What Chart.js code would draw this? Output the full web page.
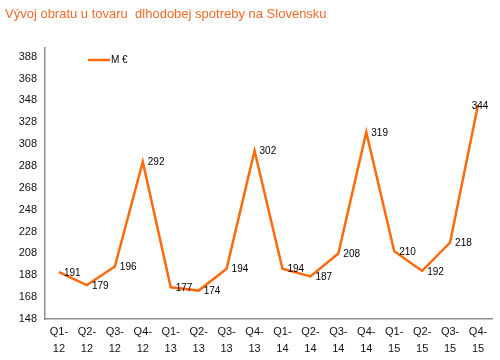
<!DOCTYPE html>
<html><head><meta charset="utf-8">
<script src="https://cdn.jsdelivr.net/npm/chart.js@4"></script>
<style>html,body{margin:0;padding:0;background:#fff}#w{width:500px;height:360px;position:relative}</style>
</head><body><div id="w"><canvas id="c" width="500" height="360"></canvas></div>
<script>
const title = "Vývoj obratu u tovaru  dlhodobej spotreby na Slovensku";
const seriesName = "M €";
const categories = [["Q1-","12"],["Q2-","12"],["Q3-","12"],["Q4-","12"],["Q1-","13"],["Q2-","13"],["Q3-","13"],["Q4-","13"],["Q1-","14"],["Q2-","14"],["Q3-","14"],["Q4-","14"],["Q1-","15"],["Q2-","15"],["Q3-","15"],["Q4-","15"]];
const values = [191,179,196,292,177,174,194,302,194,187,208,319,210,192,218,344];
const yTicks = [148,168,188,208,228,248,268,288,308,328,348,368,388];
const FONT = "'Liberation Sans', Arial, sans-serif";
const ORANGE = "#FF6A0D";

const deco = {
  id: 'deco',
  afterDatasetsDraw(chart) {
    const ctx = chart.ctx, area = chart.chartArea;
    ctx.save();
    // title
    ctx.font = "13px " + FONT;
    ctx.fillStyle = "#EE6A2A";
    ctx.textBaseline = "middle";
    ctx.textAlign = "left";
    ctx.fillText(title, 5, 14);
    // legend
    ctx.strokeStyle = ORANGE; ctx.lineWidth = 2.5;
    ctx.beginPath(); ctx.moveTo(88, 60); ctx.lineTo(110, 60); ctx.stroke();
    ctx.font = "10px " + FONT; ctx.fillStyle = "#000";
    ctx.fillText(chart.data.datasets[0].label, 111, 60);
    // data labels
    const meta = chart.getDatasetMeta(0);
    ctx.font = "10px " + FONT;
    meta.data.forEach((p, i) => {
      const t = String(chart.data.datasets[0].data[i]);
      const w = ctx.measureText(t).width;
      let x = p.x + 5;
      if (x + w > area.right - 4) x = p.x - w / 2 + 2;
      ctx.fillText(t, x, p.y + 1);
    });
    ctx.restore();
  }
};

new Chart(document.getElementById('c'), {
  type: 'line',
  data: {
    labels: categories,
    datasets: [{
      label: seriesName,
      data: values,
      borderColor: ORANGE,
      backgroundColor: ORANGE,
      borderWidth: 2.5,
      pointRadius: 0,
      tension: 0,
      fill: false
    }]
  },
  options: {
    responsive: false,
    animation: false,
    devicePixelRatio: 1,
    layout: { padding: { top: 48, right: 8, left: 0, bottom: 0 } },
    plugins: { legend: { display: false }, title: { display: false }, tooltip: { enabled: false } },
    scales: {
      x: {
        offset: true,
        grid: { display: false, drawTicks: false },
        border: { color: '#8c8c8c', width: 1.5 },
        ticks: { font: { family: FONT, size: 11, lineHeight: 1.6 }, color: '#111', maxRotation: 0, autoSkip: false, padding: 4 },
        afterFit(s) { s.height = 41; }
      },
      y: {
        min: 148, max: 396,
        grid: { display: false, drawTicks: false },
        border: { color: '#8c8c8c', width: 1.5 },
        afterBuildTicks(s) { s.ticks = yTicks.map(v => ({ value: v })); },
        ticks: { font: { family: FONT, size: 11 }, color: '#111', padding: 8 },
        afterFit(s) { s.width = 45; }
      }
    }
  },
  plugins: [deco]
});
</script></body></html>
